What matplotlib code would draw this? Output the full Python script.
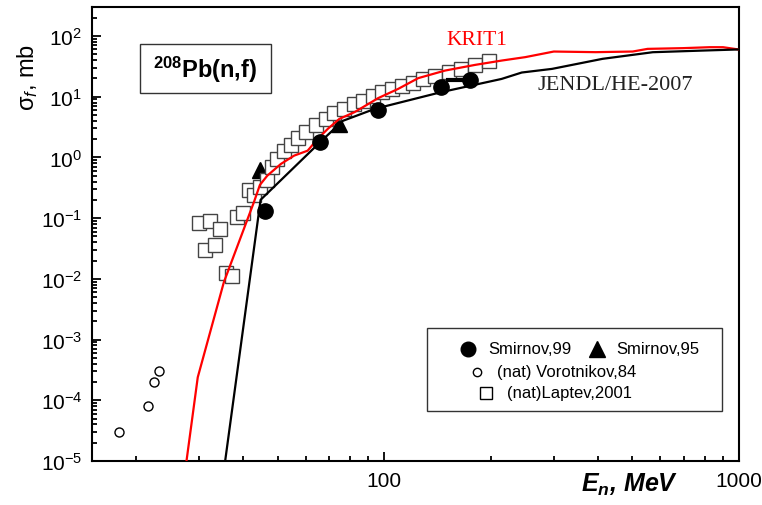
import numpy as np
import matplotlib
matplotlib.use('Agg')
import matplotlib.pyplot as plt
from matplotlib.ticker import LogLocator, NullFormatter, FixedLocator, FixedFormatter
from matplotlib.patches import Rectangle

plt.rcParams['font.family'] = 'Liberation Sans'
plt.rcParams['mathtext.fontset'] = 'custom'
plt.rcParams['mathtext.rm'] = 'Liberation Sans'
plt.rcParams['mathtext.it'] = 'Liberation Sans:italic'
plt.rcParams['mathtext.bf'] = 'Liberation Sans:bold'
plt.rcParams['mathtext.bfit'] = 'Liberation Sans:bold:italic'

# KRIT1 calculation (red)
krit_e = [27.7, 29.8, 35.3, 42.9, 44.6, 46.8, 51.1, 55.7, 60.8, 64.9, 69.3,
          74.7, 82.4, 91.9, 96.0, 109.3, 124.6, 148.2, 180.3, 214.5, 249.6,
          300.4, 394, 501, 552, 694, 826, 901, 1000]
krit_s = [1e-5, 2.39e-4, 8.8e-3, 0.183, 0.352, 0.50, 0.78, 1.07, 1.29, 2.02,
          2.95, 4.31, 5.56, 8.11, 9.45, 13.4, 20.2, 26.9, 33.4, 39.4, 44.8,
          55.4, 54.1, 55.4, 61.3, 63.0, 65.3, 65.3, 59.7]

# JENDL/HE-2007 evaluation (black)
jendl_e = [35.6, 44.8, 65.9, 76.4, 94, 144, 214, 244, 297, 412, 571, 791, 1000]
jendl_s = [1e-5, 0.2, 1.78, 4.0, 6.3, 11.8, 19.6, 25.0, 28.7, 42, 54, 57.5, 60]

# Smirnov,99 (filled circles)
smir99_e = [46.0, 65.9, 96.0, 144.4, 174.5]
smir99_s = [0.133, 1.78, 6.13, 14.4, 19.1]
smir99_xlo = [0, 0, 0, 0, 25]

# Smirnov,95 (triangles)
smir95_e = [44.6, 74.7]
smir95_s = [0.61, 3.6]

# (nat) Vorotnikov,84 (open circles)
voro_e = [17.9, 21.6, 22.5, 23.2]
voro_s = [3.0e-5, 8.1e-5, 2.0e-4, 3.0e-4]

# (nat)Laptev,2001 (open squares)
lapt_e = [30.0, 32.2, 34.5, 31.2, 33.3, 35.8, 37.1, 38.5, 39.9, 41.5, 42.9,
          44.6, 46.7, 48.2, 49.8, 52.1, 54.5, 57.1, 60.1, 64.2, 68.5, 72.2,
          77.1, 82.2, 87.2, 93.1, 98.7, 105.4, 112.4, 120.8, 128.9, 138.6,
          151.8, 164.2, 179.7, 197.0]
lapt_s = [0.082, 0.091, 0.065, 0.030, 0.036, 0.0125, 0.011, 0.104, 0.122,
          0.295, 0.24, 0.32, 0.43, 0.70, 0.94, 1.28, 1.61, 2.10, 2.63, 3.43,
          4.31, 5.41, 6.30, 7.61, 8.53, 10.3, 12.0, 13.4, 15.1, 16.9, 19.6,
          22.0, 25.6, 28.7, 33.4, 38.9]

fig = plt.figure(figsize=(7.62, 5.06), dpi=100)
ax = fig.add_axes([0.1207, 0.0870, 0.8493, 0.8972])

ax.plot(smir95_e, smir95_s, linestyle='none', marker='^', ms=11,
        color='black', zorder=1.5)
ax.plot(lapt_e, lapt_s, linestyle='none', marker='s', ms=9.5,
        mfc='white', mec='#444444', mew=1.0, zorder=2)
ax.plot(krit_e, krit_s, color='#ff0000', lw=1.6, zorder=3)
ax.plot(jendl_e, jendl_s, color='black', lw=1.6, zorder=3)
ax.errorbar(smir99_e, smir99_s, xerr=[smir99_xlo, [0] * len(smir99_e)],
            fmt='o', ms=11, color='black', elinewidth=3, capsize=0, zorder=4)
ax.plot(voro_e, voro_s, linestyle='none', marker='o', ms=6.5,
        mfc='white', mec='black', mew=1.0, zorder=4)

ax.set_xscale('log')
ax.set_yscale('log')
ax.set_xlim(15, 1000)
ax.set_ylim(1e-5, 3e2)

ax.xaxis.set_major_locator(FixedLocator([100, 1000]))
ax.xaxis.set_major_formatter(FixedFormatter(['100', '1000']))
ax.xaxis.set_minor_locator(LogLocator(base=10, subs=np.arange(2, 10), numticks=20))
ax.xaxis.set_minor_formatter(NullFormatter())
ax.yaxis.set_major_locator(LogLocator(base=10, numticks=20))
ax.yaxis.set_minor_locator(LogLocator(base=10, subs=np.arange(2, 10), numticks=20))
ax.yaxis.set_minor_formatter(NullFormatter())

ax.tick_params(which='both', direction='in', top=False, right=False,
               labelsize=15, width=1.3)
ax.tick_params(which='major', length=6.5, pad=7)
ax.tick_params(which='minor', length=3.6)
for sp in ax.spines.values():
    sp.set_linewidth(1.5)

# title box
ax.add_patch(Rectangle((0.0742, 0.8106), 0.2025, 0.1079, transform=ax.transAxes,
                       fill=False, lw=1.0, ec='#333333', zorder=5))
ax.text(0.1754, 0.8645, r'$^{\mathbf{208}}$Pb(n,f)', transform=ax.transAxes,
        ha='center', va='center', fontsize=17, fontweight='bold', zorder=6)

ax.text(0.595, 0.9295, 'KRIT1', transform=ax.transAxes, ha='center',
        va='center', color='#ff0000', fontsize=15.5, family='Liberation Serif')
ax.text(0.808, 0.830, 'JENDL/HE-2007', transform=ax.transAxes, ha='center',
        va='center', color='#222222', fontsize=16, family='Liberation Serif')

# legend box
ax.add_patch(Rectangle((0.5178, 0.1101), 0.456, 0.1828, transform=ax.transAxes,
                       fill=False, lw=1.0, ec='#333333', zorder=5))
lg = dict(transform=ax.transAxes, linestyle='none', clip_on=False, zorder=6)
ax.plot([0.5811], [0.2467], marker='o', ms=10.5, color='black', **lg)
ax.plot([0.7805], [0.2467], marker='^', ms=11, color='black', **lg)
ax.plot([0.595], [0.196], marker='o', ms=6, mfc='white', mec='black', mew=1.0, **lg)
ax.plot([0.609], [0.1498], marker='s', ms=8, mfc='white', mec='black', mew=1.0, **lg)
tx = dict(transform=ax.transAxes, ha='left', va='center', fontsize=12)
ax.text(0.612, 0.2467, 'Smirnov,99', **tx)
ax.text(0.8099, 0.2467, 'Smirnov,95', **tx)
ax.text(0.626, 0.196, '(nat) Vorotnikov,84', **tx)
ax.text(0.6414, 0.1498, '(nat)Laptev,2001', **tx)

fig.text(28 / 762, 1 - 77 / 506, r'σ$_{f}$, mb', rotation=90, ha='center',
         va='center', fontsize=17)
fig.text(630 / 762, 1 - 485 / 506, r'$\mathbfit{E}_{\mathbfit{n}}$, MeV',
         ha='center', va='center', fontsize=18, fontweight='bold',
         fontstyle='italic')

fig.savefig('out.png', dpi=100)
